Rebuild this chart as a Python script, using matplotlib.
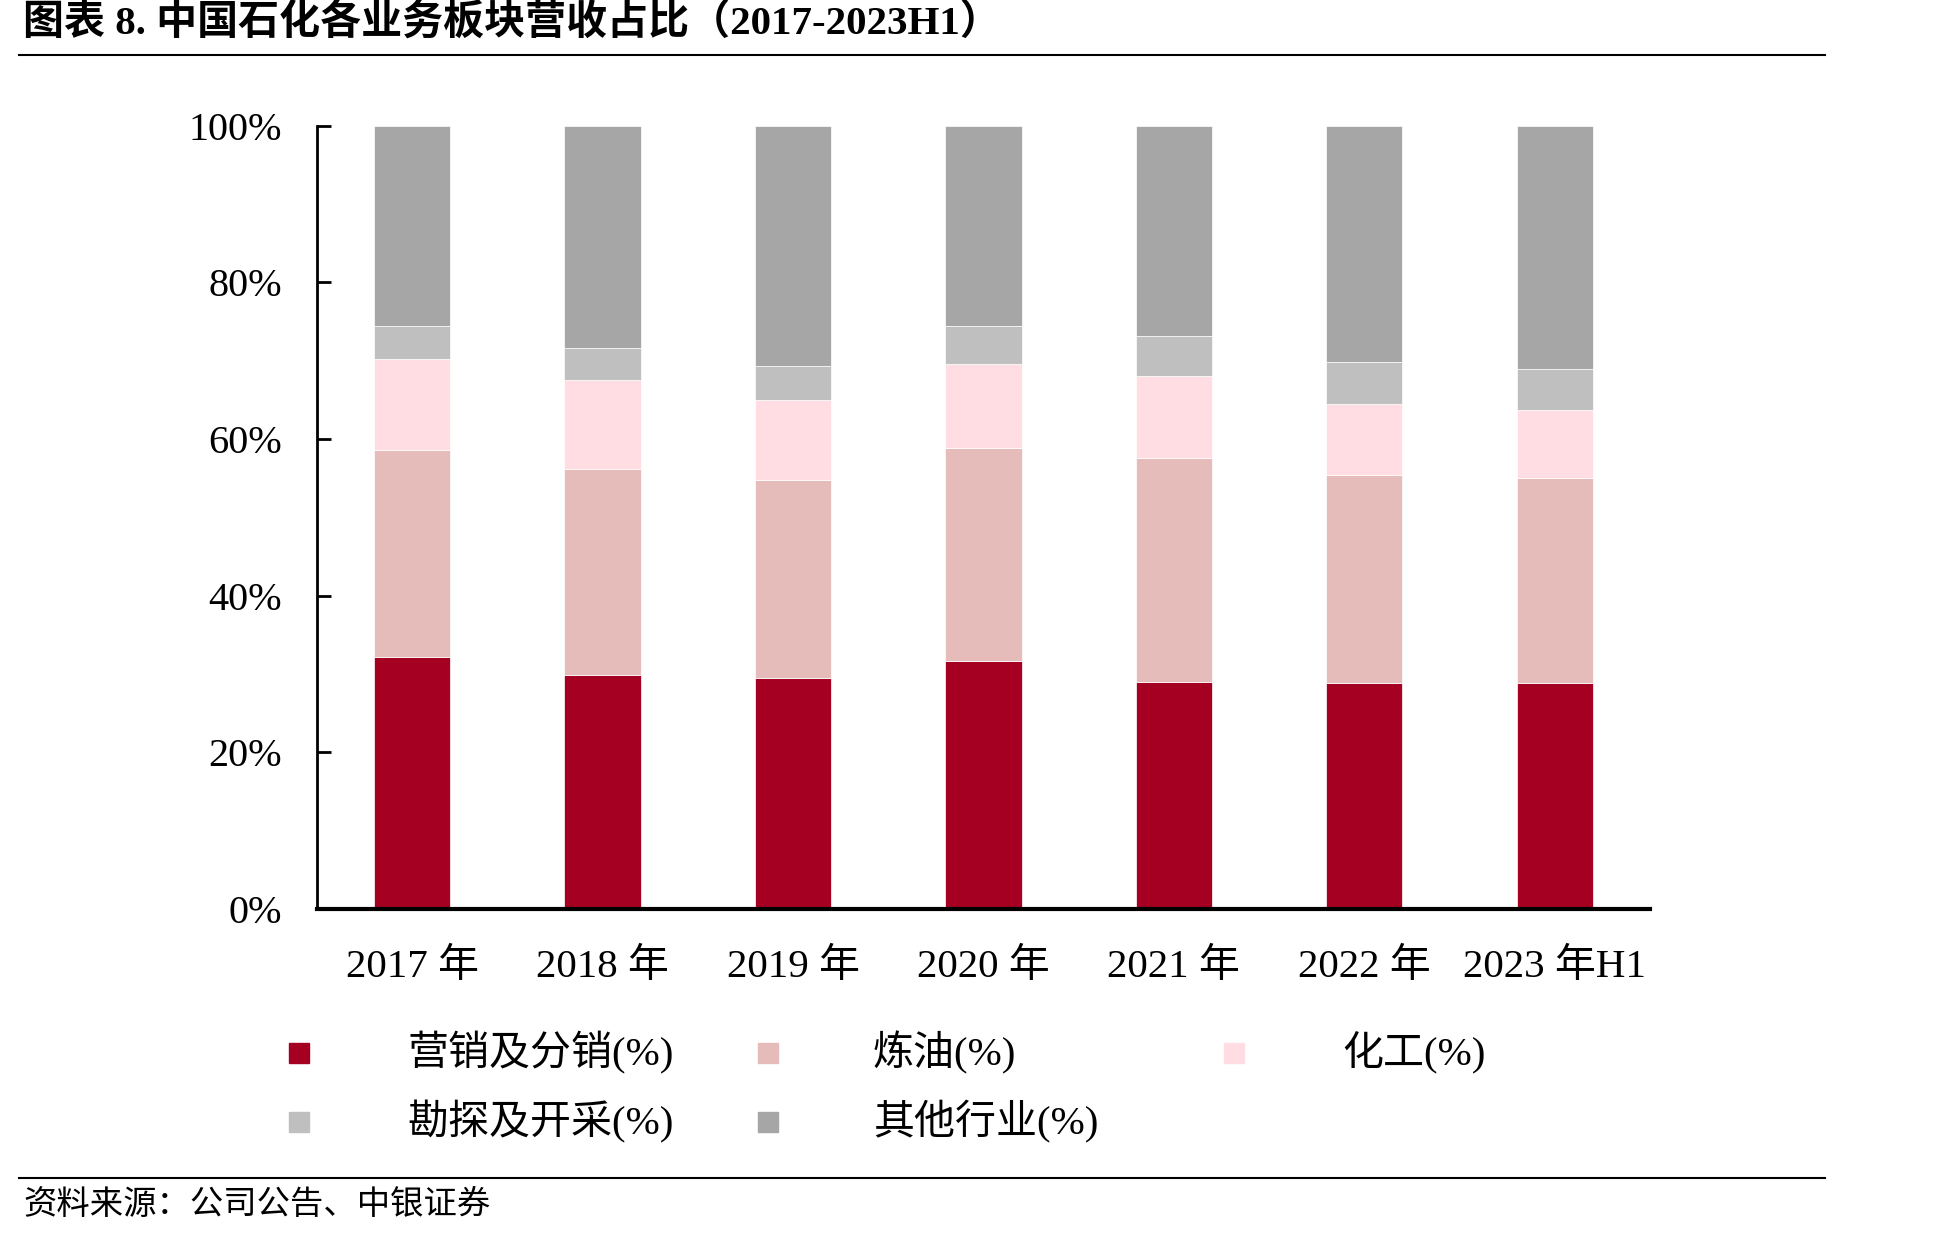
import matplotlib
matplotlib.use("Agg")
import numpy as np
import matplotlib.pyplot as plt
from matplotlib.patches import Rectangle
from matplotlib.lines import Line2D
from matplotlib.ticker import FuncFormatter

plt.rcParams['font.family'] = ['Liberation Serif', 'Noto Sans CJK SC']

##### data (share of revenue, %) ####
years = ["2017 年", "2018 年", "2019 年", "2020 年", "2021 年", "2022 年", "2023 年H1"]
marketing = [32.2, 29.9, 29.5, 31.6, 29.0, 28.8, 28.9]
refining = [26.4, 26.2, 25.2, 27.2, 28.6, 26.6, 26.1]
chemicals = [11.6, 11.4, 10.3, 10.7, 10.4, 9.0, 8.7]
exploration = [4.2, 4.1, 4.3, 4.9, 5.2, 5.4, 5.2]
others = [25.6, 28.4, 30.7, 25.6, 26.8, 30.2, 31.1]

series_names = ["营销及分销(%)", "炼油(%)", "化工(%)", "勘探及开采(%)", "其他行业(%)"]
series_colors = ["#A50021", "#E6BCBB", "#FFDDE3", "#BFBFBF", "#A6A6A6"]

fig = plt.figure(figsize=(19.48, 12.39), dpi=100)
ax = fig.add_axes([0.1627, 0.2663, 0.6843, 0.6324])

x = np.arange(len(years))
bottom = np.zeros(len(years))
for vals, col in zip([marketing, refining, chemicals, exploration, others], series_colors):
    ax.bar(x, vals, width=0.4, bottom=bottom, color=col, edgecolor='white', linewidth=0.5)
    bottom += np.array(vals)

ax.set_xlim(-0.5, len(years) - 0.5)
ax.set_ylim(0, 100)
ax.set_yticks([0, 20, 40, 60, 80, 100])
ax.yaxis.set_major_formatter(FuncFormatter(lambda v, p: f"{v:.0f}%"))
ax.set_xticks(x)
ax.set_xticklabels(years)

for s in ['top', 'right']:
    ax.spines[s].set_visible(False)
ax.spines['left'].set_linewidth(2)
ax.spines['bottom'].set_linewidth(3)
ax.tick_params(axis='y', direction='in', length=10, width=2, pad=25, labelsize=29)
ax.tick_params(axis='x', length=0, pad=29, labelsize=29.5)

# title, rules and source
fig.text(0.012, 0.982, "图表 8. 中国石化各业务板块营收占比（2017-2023H1）",
         fontsize=29.5, fontweight='bold', va='center', ha='left')
fig.add_artist(Line2D([0.0096, 0.937], [0.9559, 0.9559], color='black', linewidth=1.5))
fig.add_artist(Line2D([0.0096, 0.937], [0.0495, 0.0495], color='black', linewidth=1.5))
fig.text(0.012, 0.027, "资料来源：公司公告、中银证券", fontsize=24, va='center', ha='left')

# legend, laid out row by row like the original
marker_x = [299, 768, 1234]
text_x = [407, 873, 1342]
row_y = [1053, 1122]
W, H = 1948, 1239
sq = 20
for i, (name, col) in enumerate(zip(series_names, series_colors)):
    r, c = divmod(i, 3)
    cx, cy = marker_x[c], row_y[r]
    fig.add_artist(Rectangle(((cx - sq / 2) / W, 1 - (cy + sq / 2) / H), sq / W, sq / H,
                             transform=fig.transFigure, color=col))
    fig.text(text_x[c] / W, 1 - cy / H, name, fontsize=29.5, va='center', ha='left')

fig.savefig("out.png", dpi=100, facecolor='white')
